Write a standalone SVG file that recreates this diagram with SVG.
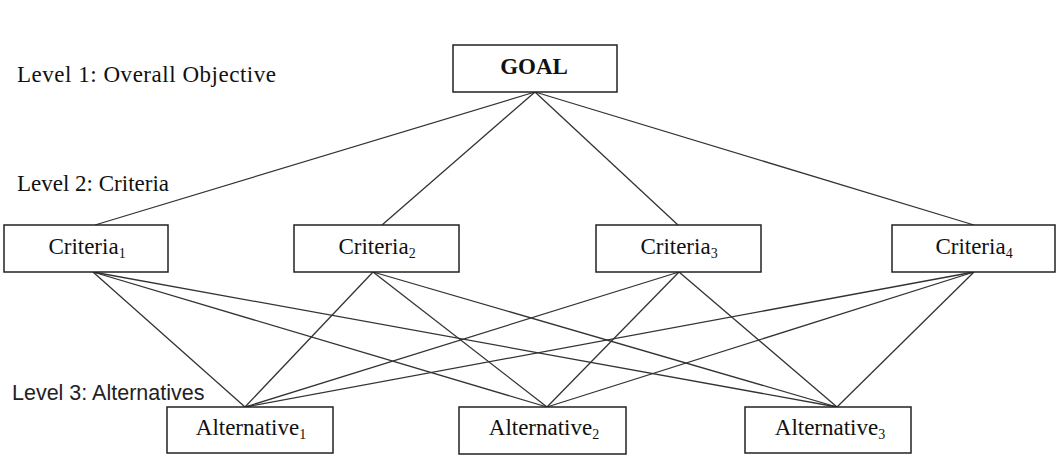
<svg xmlns="http://www.w3.org/2000/svg" width="1056" height="456" viewBox="0 0 1056 456">
<style>
.box{fill:#fff;stroke:#222;stroke-width:1.5}
.t{font-family:"Liberation Serif","Times New Roman",serif;font-size:23px;fill:#111}
.lbl{font-family:"Liberation Serif","Times New Roman",serif;font-size:23px;fill:#111}
.sans{font-family:"Liberation Sans",Arial,sans-serif;font-size:21.5px;fill:#222}
.sub{font-size:14px}
.c line{stroke:#333;stroke-width:1.3}
</style>
<rect width="1056" height="456" fill="#fff"/>
<text class="lbl" x="17" y="82" textLength="259">Level 1: Overall Objective</text>
<text class="lbl" x="17" y="191">Level 2: Criteria</text>
<text class="sans" x="12" y="400">Level 3: Alternatives</text>
<g class="c" id="connectors">
<line x1="535" y1="92" x2="95" y2="225"/>
<line x1="535" y1="92" x2="382" y2="225"/>
<line x1="535" y1="92" x2="678" y2="225"/>
<line x1="535" y1="92" x2="974" y2="225"/>
<line x1="93" y1="272" x2="245" y2="407"/>
<line x1="93" y1="272" x2="547" y2="407"/>
<line x1="93" y1="272" x2="837" y2="407"/>
<line x1="373" y1="272" x2="245" y2="407"/>
<line x1="373" y1="272" x2="547" y2="407"/>
<line x1="373" y1="272" x2="837" y2="407"/>
<line x1="679" y1="272" x2="245" y2="407"/>
<line x1="679" y1="272" x2="547" y2="407"/>
<line x1="679" y1="272" x2="837" y2="407"/>
<line x1="974" y1="272" x2="245" y2="407"/>
<line x1="974" y1="272" x2="547" y2="407"/>
<line x1="974" y1="272" x2="837" y2="407"/>
</g>
<g id="goal">
<rect class="box" x="453" y="45" width="164" height="47"/>
<text class="t" x="534" y="74" text-anchor="middle" font-weight="bold">GOAL</text>
</g>
<g id="criteria1">
<rect class="box" x="4" y="225" width="164" height="47"/>
<text class="t" x="87" y="254" text-anchor="middle">Criteria<tspan class="sub" dy="4">1</tspan></text>
</g>
<g id="criteria2">
<rect class="box" x="294" y="225" width="165" height="47"/>
<text class="t" x="377" y="254" text-anchor="middle">Criteria<tspan class="sub" dy="4">2</tspan></text>
</g>
<g id="criteria3">
<rect class="box" x="596" y="225" width="165" height="47"/>
<text class="t" x="679" y="254" text-anchor="middle">Criteria<tspan class="sub" dy="4">3</tspan></text>
</g>
<g id="criteria4">
<rect class="box" x="892" y="225" width="163" height="47"/>
<text class="t" x="974" y="254" text-anchor="middle">Criteria<tspan class="sub" dy="4">4</tspan></text>
</g>
<g id="alternative1">
<rect class="box" x="167" y="407" width="166" height="46"/>
<text class="t" x="251" y="435" text-anchor="middle">Alternative<tspan class="sub" dy="4">1</tspan></text>
</g>
<g id="alternative2">
<rect class="box" x="459" y="407" width="167" height="47"/>
<text class="t" x="544" y="435" text-anchor="middle">Alternative<tspan class="sub" dy="4">2</tspan></text>
</g>
<g id="alternative3">
<rect class="box" x="745" y="407" width="166" height="46"/>
<text class="t" x="830" y="435" text-anchor="middle">Alternative<tspan class="sub" dy="4">3</tspan></text>
</g>
</svg>
